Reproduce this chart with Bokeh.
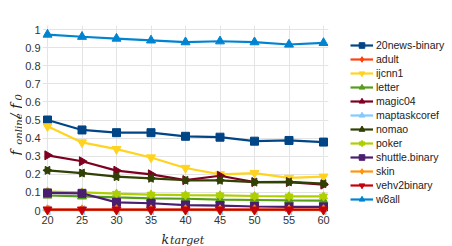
import numpy as np
from bokeh.plotting import figure
from bokeh.models import Legend, LegendItem, Label, FixedTicker, Range1d
from bokeh.layouts import row, column
from bokeh.embed import file_html
from bokeh.resources import INLINE

# ---- data ----
k_target = [20, 25, 30, 35, 40, 45, 50, 55, 60]
news20_binary = [0.500, 0.445, 0.430, 0.430, 0.410, 0.405, 0.383, 0.387, 0.378]
adult = [0.003, 0.003, 0.003, 0.003, 0.003, 0.003, 0.003, 0.003, 0.003]
ijcnn1 = [0.465, 0.376, 0.339, 0.293, 0.235, 0.200, 0.207, 0.180, 0.187]
letter = [0.083, 0.078, 0.072, 0.067, 0.065, 0.060, 0.058, 0.056, 0.055]
magic04 = [0.305, 0.272, 0.220, 0.200, 0.168, 0.192, 0.157, 0.157, 0.143]
maptaskcoref = [0.002, 0.002, 0.002, 0.002, 0.002, 0.002, 0.002, 0.002, 0.002]
nomao = [0.222, 0.207, 0.187, 0.178, 0.167, 0.167, 0.157, 0.158, 0.148]
poker = [0.105, 0.100, 0.093, 0.088, 0.085, 0.084, 0.080, 0.078, 0.078]
shuttle_binary = [0.097, 0.095, 0.045, 0.040, 0.030, 0.027, 0.022, 0.020, 0.020]
skin = [0.004, 0.004, 0.004, 0.004, 0.004, 0.004, 0.004, 0.004, 0.004]
vehv2binary = [0.005, 0.005, 0.005, 0.005, 0.005, 0.005, 0.005, 0.005, 0.005]
w8all = [0.972, 0.960, 0.950, 0.940, 0.930, 0.935, 0.930, 0.917, 0.926]

series_names = ["20news-binary", "adult", "ijcnn1", "letter", "magic04",
                "maptaskcoref", "nomao", "poker", "shuttle.binary", "skin",
                "vehv2binary", "w8all"]
series_values = [news20_binary, adult, ijcnn1, letter, magic04, maptaskcoref,
                 nomao, poker, shuttle_binary, skin, vehv2binary, w8all]

y_ticks = [0, 0.1, 0.2, 0.3, 0.4, 0.5, 0.6, 0.7, 0.8, 0.9, 1]
y_tick_labels = ["0", "0.1", "0.2", "0.3", "0.4", "0.5", "0.6", "0.7", "0.8", "0.9", "1"]
x_tick_labels = ["20", "25", "30", "35", "40", "45", "50", "55", "60"]

# ---- styles ----
colors = ["#004586", "#ff420e", "#ffd320", "#579d1c", "#7e0021", "#83caff",
          "#314004", "#aecf00", "#4b1f6f", "#ff950e", "#c5000b", "#0084d1"]
markers = [
    [("square", 0.0, 8)],
    [("diamond", 0.0, 10)],
    [("inverted_triangle", 0.0, 9)],
    [("triangle", 0.0, 9)],
    [("triangle", -np.pi / 2, 9)],
    [("triangle", np.pi / 2, 9)],
    [("triangle", -np.pi / 2, 8), ("triangle", np.pi / 2, 8)],
    [("triangle", 0.0, 8), ("inverted_triangle", 0.0, 8)],
    [("square", 0.0, 8)],
    [("diamond", 0.0, 10)],
    [("inverted_triangle", 0.0, 9)],
    [("triangle", 0.0, 9)],
]
text_dark = "#1e1e1e"

# ---- main chart ----
fig = figure(width=430, height=228, frame_width=286, frame_height=190,
             x_range=(19.275, 60.724), y_range=(-0.0276, 1.0221),
             output_backend="svg", toolbar_location=None, title=None,
             min_border_left=20, min_border_right=124,
             min_border_top=25, min_border_bottom=13)
fig.outline_line_color = None

for ax in (fig.xaxis, fig.yaxis):
    ax.axis_line_color = None
    ax.major_tick_line_color = None
    ax.minor_tick_line_color = None
    ax.major_tick_out = 0
    ax.major_tick_in = 0
    ax.minor_tick_out = 0
    ax.major_label_text_font = "Liberation Sans"
    ax.major_label_text_font_size = "11px"
    ax.major_label_text_color = "#333333"

fig.xaxis.ticker = FixedTicker(ticks=k_target)
fig.xaxis.major_label_overrides = {k: s for k, s in zip(k_target, x_tick_labels)}
fig.xaxis.major_label_standoff = 0
fig.yaxis.ticker = FixedTicker(ticks=y_ticks)
fig.yaxis.major_label_overrides = {t: s for t, s in zip(y_ticks, y_tick_labels)}
fig.yaxis.major_label_standoff = 2

fig.xgrid.ticker = FixedTicker(ticks=k_target)
fig.ygrid.ticker = FixedTicker(ticks=y_ticks)
fig.xgrid.grid_line_color = "#e4e4e4"
fig.ygrid.grid_line_color = "#e4e4e4"
fig.xgrid.bounds = (0, 1)
fig.ygrid.bounds = (20, 60)

items = []
for name, vals, col, mk in zip(series_names, series_values, colors, markers):
    rends = [fig.line(k_target, vals, line_color=col, line_width=2.2)]
    for m, ang, sz in mk:
        rends.append(fig.scatter(k_target, vals, marker=m, angle=ang, size=sz,
                                 fill_color=col, line_color=col, line_width=1))
    items.append(LegendItem(label=name, renderers=rends))

legend = Legend(items=items, location=(22, 9), padding=0, margin=0,
                spacing=0, glyph_width=23, glyph_height=14, label_height=14,
                label_standoff=3, label_text_font="Liberation Sans",
                label_text_font_size="10.5px", label_text_color="#222222",
                background_fill_alpha=0, border_line_alpha=0)
fig.add_layout(legend, "right")

# ---- axis titles drawn in thin side canvases (page pixel coordinates) ----
def label_canvas(w, h, x0, y0):
    c = figure(width=w, height=h, x_range=Range1d(x0, x0 + w),
               y_range=Range1d(y0 + h, y0), x_axis_type=None, y_axis_type=None,
               output_backend="svg", toolbar_location=None, title=None,
               min_border=0)
    c.outline_line_color = None
    c.grid.visible = False
    return c

common = dict(text_font="DejaVu Serif", text_font_style="italic",
              text_color=text_dark, text_baseline="alphabetic", text_align="left")

ylab = label_canvas(22, 228, 0, 0)
rot = dict(angle=np.pi / 2, **common)
ylab.add_layout(Label(x=15.4, y=156, text="f", text_font_size="14px", **rot))
ylab.add_layout(Label(x=17.8, y=143, text="online", text_font_size="10px", **rot))
ylab.add_layout(Label(x=15.4, y=111, text="/", text_font_size="13px", **rot))
ylab.add_layout(Label(x=15.4, y=100, text="f", text_font_size="14px", **rot))
ylab.add_layout(Label(x=17.8, y=90, text="0", text_font_size="10px", **rot))

xlab = label_canvas(452, 18, 0, 228)
xlab.add_layout(Label(x=161, y=239.3, text="k", text_font_size="12.5px", **common))
xlab.add_layout(Label(x=169.5, y=240.2, text="target", text_font_size="11px", **common))

p = column(row(ylab, fig), xlab)

open("out.html", "w").write(file_html(p, INLINE))
